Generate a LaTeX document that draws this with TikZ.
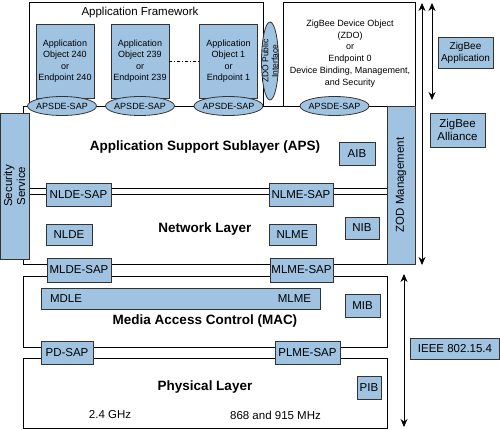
\documentclass[tikz,border=0pt]{standalone}
\usepackage{fontspec}
\setmainfont{Liberation Sans}
\usetikzlibrary{shapes.geometric,arrows.meta}
\definecolor{zbblue}{RGB}{160,195,226}
\begin{document}
\begin{tikzpicture}[x=1pt,y=-1pt,line width=0.8pt,
 blk/.style={draw=black!80,fill=zbblue,inner sep=0pt,align=center,font=\fontsize{11.5}{13}\selectfont},
 sblk/.style={blk,font=\fontsize{9}{11.4}\selectfont},
 sapell/.style={ellipse,draw=black!80,fill=zbblue,minimum width=69pt,minimum height=19pt,inner sep=0pt},
 ttl/.style={font=\fontsize{13.5}{15}\selectfont\bfseries},
 txt/.style={font=\fontsize{11.5}{13}\selectfont},
 span/.style={{Stealth[length=8pt,width=7pt]}-{Stealth[length=8pt,width=7pt]},line width=1pt}]
\useasboundingbox(0,0)rectangle(500,430);
% frames of the stack
\draw(29,2)rectangle(263,106);
\draw(283,2)rectangle(415,106);
\foreach \ya/\yb in {106/188,194/264,276/347,358/428}{\draw(23,\ya)rectangle(387,\yb);}
% application framework
\node[txt](afw) at (140,13){Application Framework};
\foreach \nm/\x/\n in {ao240/65/240,ao239/140/239,ao1/228.5/1}{\node[sblk,minimum width=58pt,minimum height=74pt](\nm) at (\x,61){Application\\Object \n\\or\\Endpoint \n};}
\draw[dash dot](ao239.east)--(ao1.west);
\node[ellipse,draw=black!80,fill=zbblue,minimum width=17pt,minimum height=78pt,inner sep=0pt,
 label={[rotate=90,align=center,font=\fontsize{8.5}{9.5}\selectfont]center:{ZDO Public\\Interface}}](zpi) at (270,61){};
\node[align=center,font=\fontsize{9}{11.8}\selectfont](zdo) at (350,53.5){ZigBee Device Object\\(ZDO)\\or\\Endpoint 0\\Device Binding, Management,\\and Security};
\foreach \nm/\x in {sap240/62,sap239/140,sap1/228.5,sapzdo/334.5}{\node[sapell,label={[font=\fontsize{9}{10}\selectfont]center:APSDE-SAP}](\nm) at (\x,106){};}
% side blocks
\node[blk,rotate=90,minimum width=146pt,minimum height=29pt](sec) at (14.5,186){Security\\Service};
\node[blk,rotate=90,minimum width=158pt,minimum height=28pt](zodm) at (401,185){ZOD Management};
% sap and base blocks
\foreach \nm/\x/\y/\w/\h/\t in {aib/357/153.5/36/23/AIB,nldesap/78.5/194.5/65/23/NLDE-SAP,nlmesap/301/194.5/64/23/NLME-SAP,
 nlde/69/234.5/46/21/NLDE,nlme/292.5/234.5/47/21/NLME,nib/362/228/34/22/NIB,
 mldesap/79/270/64/24/MLDE-SAP,mlmesap/301.5/270/63/24/MLME-SAP,mib/362.5/305.5/35/23/MIB,
 pdsap/67/352.5/52/23/PD-SAP,plmesap/307.5/352.5/65/23/PLME-SAP,pib/369/387.5/24/23/PIB}{
 \node[blk,minimum width=\w pt,minimum height=\h pt](\nm) at (\x,\y){\t};}
\node[blk,minimum width=279pt,minimum height=21pt](macbar) at (180.5,298.5){};
\node[txt,anchor=west,inner sep=0pt](mdle) at ([xshift=9pt]macbar.west){MDLE};
\node[txt,anchor=east,inner sep=0pt](mlme) at ([xshift=-9pt]macbar.east){MLME};
% layer titles
\foreach \nm/\y/\t in {taps/147/Application Support Sublayer (APS),tnwk/229/Network Layer,tmac/321/Media Access Control (MAC),tphy/387/Physical Layer}{\node[ttl](\nm) at (205,\y){\t};}
\node[txt](f24) at (110,415){2.4 GHz};
\node[txt](f868) at (275.5,415){868 and 915 MHz};
% spans on the right
\coordinate(zaT) at (432,3);\coordinate(zaB) at (432,100);
\coordinate(alT) at (422,3);\coordinate(alB) at (422,265);
\coordinate(ieT) at (404,274);\coordinate(ieB) at (404,427);
\draw[span](zaT)--(zaB);
\draw[span](alT)--(alB);
\draw[span](ieT)--(ieB);
\node[blk,font=\fontsize{10}{12}\selectfont,minimum width=55pt,minimum height=31pt](zapp) at (465.5,52.5){ZigBee\\Application};
\node[blk,minimum width=55pt,minimum height=34pt](zall) at (457.5,130){ZigBee\\Alliance};
\node[blk,minimum width=89pt,minimum height=21pt](ieee) at (455,348.5){IEEE 802.15.4};
\end{tikzpicture}
\end{document}
